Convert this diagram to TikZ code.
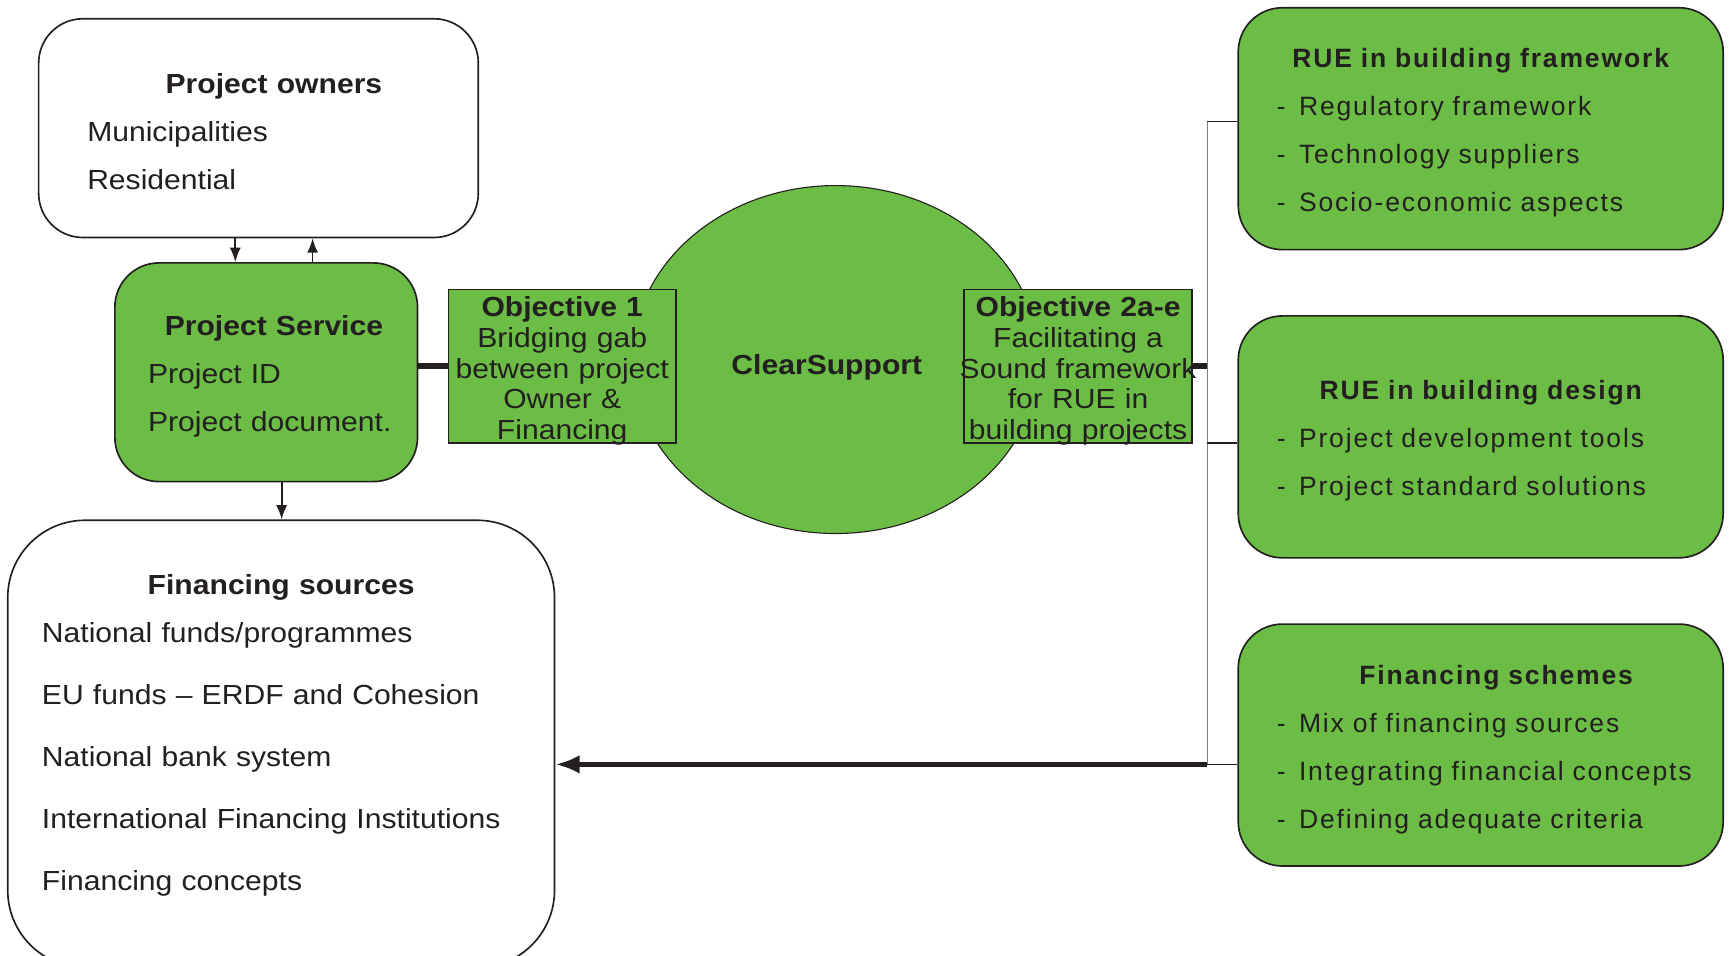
\documentclass[tikz,border=0pt]{standalone}
\usepackage{fontspec}
\setmainfont{Liberation Sans}[FakeStretch=1.09]
\newfontfamily\widefont{Liberation Sans}[LetterSpace=7]
\usepackage{xcolor}
\usepackage{tikz}
\usetikzlibrary{arrows.meta, positioning, shapes.geometric}
\definecolor{leafgreen}{RGB}{107,189,69}
\definecolor{inkgray}{RGB}{35,31,32}

\begin{document}
\begin{tikzpicture}[x=1pt, y=1pt, >={Latex[length=13pt,width=10pt]},
                    node distance=200pt, color=inkgray, line width=1.5pt]
\tikzstyle{every node}=[font=\fontsize{25}{43.5}\selectfont]
\tikzstyle{roundbox}=[shape=rectangle, rounded corners=40pt, draw=inkgray,
                    line width=1.5pt, inner xsep=16pt, inner ysep=0pt,
                    text height=25pt, align=left]
\tikzstyle{greenbox}=[roundbox, fill=leafgreen]
\tikzstyle{whitebox}=[roundbox, fill=white]
\tikzstyle{objbox}=[shape=rectangle, draw=inkgray, fill=leafgreen, line width=1.5pt,
                    inner sep=0pt, text width=206pt, minimum height=139pt,
                    text height=24pt, text depth=114.5pt, align=center,
                    font=\fontsize{25}{28}\selectfont]
\tikzstyle{themebox}=[greenbox, text width=407pt, minimum height=219pt,
                    font=\widefont\fontsize{24}{43.5}\selectfont]
\tikzstyle{thick link}=[line width=5pt]
\tikzstyle{bus}=[draw=gray, line width=1.5pt]
\tikzstyle{branch}=[line width=1.2pt]
  \useasboundingbox (0,0) rectangle (1568,-865);
  %
  \node[whitebox, text width=366pt, minimum height=198pt] (PO) at (234,-116)
    {\makebox[\hsize]{\hspace*{28pt}\bfseries Project owners}\\
     \hspace*{28pt}Municipalities\\
     \hspace*{28pt}Residential};
  \node[greenbox, text width=242pt, minimum height=198pt] (PS)
    [below of=PO, node distance=221pt, xshift=7pt]
    {\makebox[\hsize]{\hspace*{14pt}\bfseries Project Service}\\
     \hspace*{14pt}Project ID\\
     \hspace*{14pt}Project document.};
  \node[whitebox, rounded corners=70pt, text width=463pt, minimum height=405pt] (FS)
    [below of=PS, node distance=336.5pt, xshift=13.5pt]
    {\makebox[\hsize]{\bfseries Financing sources}\\
     \hspace*{15pt}National funds/programmes\\[12.5pt]
     \hspace*{15pt}EU funds – ERDF and Cohesion\\[12.5pt]
     \hspace*{15pt}National bank system\\[12.5pt]
     \hspace*{15pt}International Financing Institutions\\[12.5pt]
     \hspace*{15pt}Financing concepts\\[-16pt]\mbox{}};
  %
  \node[ellipse, draw=inkgray, fill=leafgreen, line width=1pt, inner sep=0pt,
        minimum width=368pt, minimum height=315pt] (CS)
    [right of=PS, node distance=515.5pt, yshift=11.5pt]
    {\raisebox{-7pt}[\height][\depth]{\textbf{ClearSupport}}\hspace*{16pt}};
  \node[objbox] (O1) [left of=CS, node distance=247.5pt, yshift=-6pt]
    {\textbf{Objective 1}\\ Bridging gab\\ between project\\ Owner \&\\ Financing};
  \node[objbox] (O2) [right of=CS, node distance=219.5pt, yshift=-6pt]
    {\textbf{Objective 2a-e}\\ Facilitating a\\ \makebox[\hsize]{Sound framework}\\
     for RUE in\\ building projects};
  %
  \node[themebox] (R1) at (1340.5,-116.5)
    {\makebox[\hsize]{\bfseries RUE in building framework}\\
     \hspace*{19pt}\makebox[20pt][l]{-}Regulatory framework\\
     \hspace*{19pt}\makebox[20pt][l]{-}Technology suppliers\\
     \hspace*{19pt}\makebox[20pt][l]{-}Socio-economic aspects};
  \node[themebox] (R2) [below of=R1, node distance=279pt]
    {\makebox[\hsize]{\bfseries RUE in building design}\\
     \hspace*{19pt}\makebox[20pt][l]{-}Project development tools\\
     \hspace*{19pt}\makebox[20pt][l]{-}Project standard solutions};
  \node[themebox] (R3) [below of=R2, node distance=279pt]
    {\makebox[\hsize]{\hspace*{28pt}\bfseries Financing schemes}\\
     \hspace*{19pt}\makebox[20pt][l]{-}Mix of financing sources\\
     \hspace*{19pt}\makebox[20pt][l]{-}Integrating financial concepts\\
     \hspace*{19pt}\makebox[20pt][l]{-}Defining adequate criteria};
  %
  \coordinate (Jtop) at (1093,-110);
  \coordinate (Jmid) at (1093,-401);
  \coordinate (Jbot) at (1093,-692);
  %
  \path[->] ([xshift=-21pt]PO.south) edge ([xshift=-21pt]PO.south |- PS.north);
  \path[->] ([xshift=42pt]PS.north) edge ([xshift=42pt]PS.north |- PO.south);
  \path[->] ([xshift=14pt]PS.south) edge ([xshift=14pt]PS.south |- FS.north);
  %
  \path[thick link] (PS.east |- O1.west) edge (O1.west);
  \path[thick link] (O2.east) edge (O2.east -| Jtop);
  \draw[bus] (Jtop) -- (Jbot);
  \path[branch] (Jtop) edge (Jtop -| R1.west)
                (Jmid) edge (Jmid -| R2.west)
                (Jbot) edge (Jbot -| R3.west);
  \path[thick link, -{Latex[length=22pt,width=17pt]}] (Jbot) edge (Jbot -| FS.east);
\end{tikzpicture}
\end{document}
